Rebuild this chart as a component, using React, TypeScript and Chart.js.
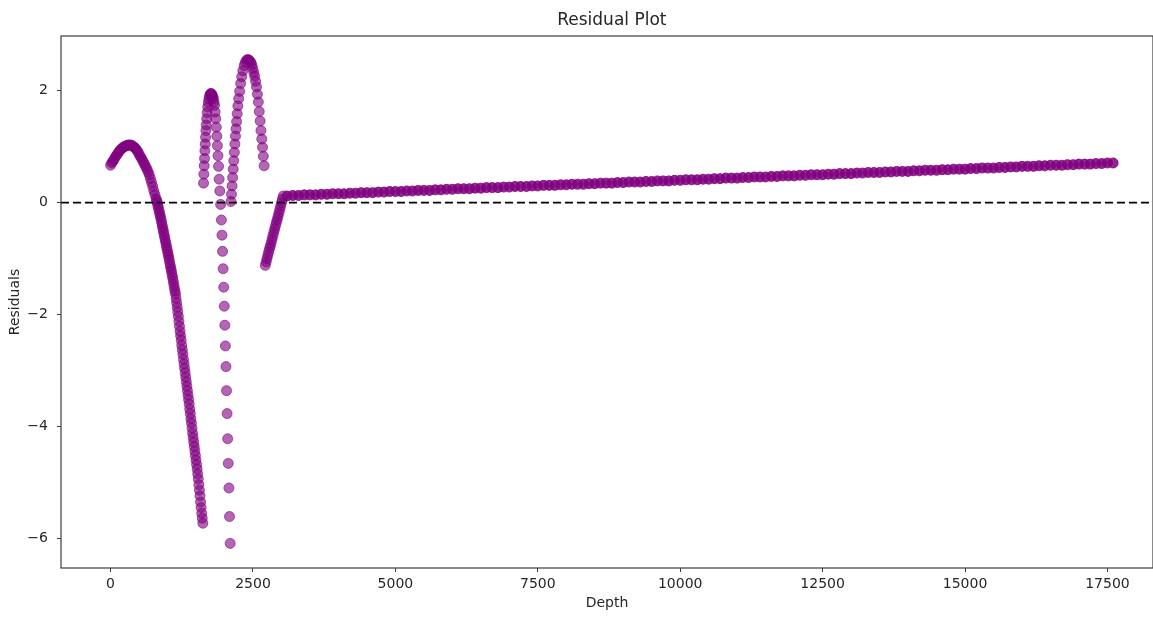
import { useEffect, useRef } from "react";
import { Chart, registerables } from "chart.js";

Chart.register(...registerables);

const X_MIN = -870;
const X_MAX = 18300;
const Y_MIN = -6.53;
const Y_MAX = 2.98;
const X_TICKS = [0, 2500, 5000, 7500, 10000, 12500, 15000, 17500];
const Y_TICKS = [-6, -4, -2, 0, 2];

// Segment A: first arch and long descent
const depthA = [
  0, 20, 40, 60, 80, 100, 120, 140, 160, 180, 200, 220, 240, 260, 280, 300, 320, 340, 360, 380,
  400, 420, 440, 460, 480, 500, 520, 540, 560, 580, 600, 620, 640, 660, 680, 700, 720, 740, 760, 780, 800,
  810, 820, 830, 840, 850, 860, 870, 880, 890, 900,
  910, 920, 930, 940, 950, 960, 970, 980, 990, 1000,
  1010, 1020, 1030, 1040, 1050, 1060, 1070, 1080, 1090, 1100,
  1110, 1120, 1130, 1140, 1150, 1160, 1170, 1180, 1190, 1200,
  1210, 1220, 1230, 1240, 1250, 1260, 1270, 1280, 1290, 1300,
  1310, 1320, 1330, 1340, 1350, 1360, 1370, 1380, 1390, 1400,
  1410, 1420, 1430, 1440, 1450, 1460, 1470, 1480, 1490, 1500,
  1510, 1520, 1530, 1540, 1550, 1560, 1570, 1580, 1590, 1600,
  1610, 1620,
];
const residA = [
  0.67, 0.71, 0.74, 0.77, 0.81, 0.84, 0.87, 0.9, 0.93, 0.95, 0.97, 0.99, 1.0, 1.01, 1.02, 1.03, 1.03, 1.03, 1.03, 1.02,
  1.0, 0.99, 0.97, 0.94, 0.91, 0.87, 0.83, 0.8, 0.76, 0.72, 0.68, 0.64, 0.6, 0.55, 0.5, 0.43, 0.36, 0.29, 0.21, 0.14, 0.07,
  0.04, 0.0, -0.05, -0.09, -0.14, -0.18, -0.23, -0.27, -0.32, -0.37,
  -0.42, -0.47, -0.52, -0.57, -0.62, -0.67, -0.72, -0.77, -0.82, -0.87,
  -0.92, -0.97, -1.02, -1.08, -1.13, -1.18, -1.23, -1.29, -1.34, -1.4,
  -1.46, -1.52, -1.58, -1.63, -1.71, -1.79, -1.87, -1.95, -2.03, -2.12,
  -2.21, -2.3, -2.38, -2.46, -2.55, -2.63, -2.71, -2.8, -2.88, -2.96,
  -3.04, -3.12, -3.2, -3.28, -3.36, -3.44, -3.52, -3.6, -3.69, -3.77,
  -3.86, -3.94, -4.03, -4.12, -4.2, -4.28, -4.36, -4.44, -4.52, -4.6,
  -4.68, -4.76, -4.85, -4.94, -5.04, -5.14, -5.24, -5.35, -5.45, -5.55,
  -5.64, -5.73,
];

// Segment B: first narrow peak and sparse plunge
const depthB = [
  1632, 1638, 1644, 1650, 1656, 1662, 1668, 1674, 1680, 1688, 1696, 1706, 1716, 1726, 1736, 1746, 1756, 1766, 1776, 1786, 1796,
  1806, 1816, 1826, 1836, 1846, 1856, 1866, 1876, 1886, 1896, 1906, 1918, 1932,
  1946, 1956, 1966, 1976, 1986, 1996, 2006, 2016, 2026, 2036, 2046, 2056, 2066, 2078, 2088, 2100,
];
const residB = [
  0.35, 0.51, 0.66, 0.79, 0.93, 1.05, 1.17, 1.29, 1.39, 1.5, 1.61, 1.71, 1.79, 1.85, 1.9, 1.93, 1.95, 1.95, 1.94, 1.92, 1.89,
  1.86, 1.8, 1.74, 1.62, 1.5, 1.35, 1.19, 1.02, 0.84, 0.65, 0.42, 0.21, -0.03,
  -0.31, -0.58, -0.87, -1.18, -1.51, -1.85, -2.19, -2.56, -2.93, -3.36, -3.77, -4.22, -4.66, -5.1, -5.61, -6.09,
];

// Segment C: second peak
const depthC = [
  2113, 2123, 2133, 2143, 2153, 2163, 2173, 2183, 2193, 2203, 2213, 2223, 2235, 2250, 2266, 2284, 2302, 2322, 2344, 2366, 2388, 2410, 2430,
  2450, 2466, 2482, 2498, 2514, 2530, 2546, 2562, 2578, 2594, 2610, 2626, 2640, 2654, 2668, 2682, 2696,
];
const residC = [
  0.02, 0.15, 0.3, 0.45, 0.6, 0.75, 0.9, 1.05, 1.19, 1.32, 1.45, 1.59, 1.73, 1.86, 1.99, 2.13, 2.25, 2.36, 2.45, 2.51, 2.55, 2.56, 2.55,
  2.53, 2.5, 2.46, 2.4, 2.33, 2.26, 2.17, 2.07, 1.94, 1.8, 1.63, 1.46, 1.29, 1.14, 0.99, 0.83, 0.66,
];

// Segment D: steep ramp back above zero
const depthD = [
  2716, 2731, 2746, 2761, 2776, 2791, 2806, 2821, 2836, 2851, 2866, 2881, 2896, 2911, 2926, 2941, 2956, 2971, 2986, 3001, 3016, 3031,
];
const residD = [
  -1.12, -1.06, -1.0, -0.94, -0.88, -0.82, -0.77, -0.71, -0.65, -0.59, -0.53, -0.47, -0.41, -0.35, -0.3, -0.24, -0.18, -0.12, -0.06, 0.0, 0.06, 0.12,
];

// Segment E: long slowly rising band
const depthE = [
  3100, 3200, 3300, 3400, 3500, 3600, 3700, 3800, 3900, 4000,
  4100, 4200, 4300, 4400, 4500, 4600, 4700, 4800, 4900, 5000,
  5100, 5200, 5300, 5400, 5500, 5600, 5700, 5800, 5900, 6000,
  6100, 6200, 6300, 6400, 6500, 6600, 6700, 6800, 6900, 7000,
  7100, 7200, 7300, 7400, 7500, 7600, 7700, 7800, 7900, 8000,
  8100, 8200, 8300, 8400, 8500, 8600, 8700, 8800, 8900, 9000,
  9100, 9200, 9300, 9400, 9500, 9600, 9700, 9800, 9900, 10000,
  10100, 10200, 10300, 10400, 10500, 10600, 10700, 10800, 10900, 11000,
  11100, 11200, 11300, 11400, 11500, 11600, 11700, 11800, 11900, 12000,
  12100, 12200, 12300, 12400, 12500, 12600, 12700, 12800, 12900, 13000,
  13100, 13200, 13300, 13400, 13500, 13600, 13700, 13800, 13900, 14000,
  14100, 14200, 14300, 14400, 14500, 14600, 14700, 14800, 14900, 15000,
  15100, 15200, 15300, 15400, 15500, 15600, 15700, 15800, 15900, 16000,
  16100, 16200, 16300, 16400, 16500, 16600, 16700, 16800, 16900, 17000,
  17100, 17200, 17300, 17400, 17500, 17600,
];
const residE = [
  0.12, 0.13, 0.13, 0.14, 0.14, 0.14, 0.15, 0.15, 0.16, 0.16,
  0.16, 0.17, 0.17, 0.18, 0.18, 0.18, 0.19, 0.19, 0.2, 0.2,
  0.2, 0.21, 0.21, 0.22, 0.22, 0.22, 0.23, 0.23, 0.24, 0.24,
  0.25, 0.25, 0.25, 0.26, 0.26, 0.27, 0.27, 0.27, 0.28, 0.28,
  0.29, 0.29, 0.29, 0.3, 0.3, 0.31, 0.31, 0.31, 0.32, 0.32,
  0.33, 0.33, 0.33, 0.34, 0.34, 0.35, 0.35, 0.35, 0.36, 0.36,
  0.37, 0.37, 0.37, 0.38, 0.38, 0.39, 0.39, 0.39, 0.4, 0.4,
  0.41, 0.41, 0.41, 0.42, 0.42, 0.43, 0.43, 0.44, 0.44, 0.44,
  0.45, 0.45, 0.46, 0.46, 0.46, 0.47, 0.47, 0.48, 0.48, 0.48,
  0.49, 0.49, 0.5, 0.5, 0.5, 0.51, 0.51, 0.52, 0.52, 0.52,
  0.53, 0.53, 0.54, 0.54, 0.54, 0.55, 0.55, 0.56, 0.56, 0.56,
  0.57, 0.57, 0.58, 0.58, 0.58, 0.59, 0.59, 0.6, 0.6, 0.6,
  0.61, 0.61, 0.62, 0.62, 0.62, 0.63, 0.63, 0.64, 0.64, 0.65,
  0.65, 0.65, 0.66, 0.66, 0.67, 0.67, 0.67, 0.68, 0.68, 0.69,
  0.69, 0.69, 0.7, 0.7, 0.71, 0.71,
];

const FONT = "'DejaVu Sans', 'Liberation Sans', sans-serif";
const TEXT = "#262626";
const AXIS = "#3c3c3c";
const PURPLE = "rgba(128, 0, 128, 0.6)";
const PURPLE_DENSE = "rgba(128, 0, 128, 0.85)";

const toPoints = (xs: number[], ys: number[]) => xs.map((x, i) => ({ x, y: ys[i] }));
const fmt = (v: number) => (v < 0 ? "\u2212" + Math.abs(v) : String(v));

const scatterStyle = (color: string) => ({
  showLine: false,
  pointRadius: 5,
  pointBorderWidth: 1,
  backgroundColor: color,
  borderColor: color,
  pointHoverRadius: 5,
});

export default function App() {
  const ref = useRef<HTMLCanvasElement>(null);

  useEffect(() => {
    if (!ref.current) return;
    const framePlugin = {
      id: "frameAndTitle",
      afterDraw(chart: any) {
        const { ctx, chartArea } = chart;
        const { left, top, right, bottom } = chartArea;
        ctx.save();
        ctx.strokeStyle = AXIS;
        ctx.lineWidth = 1.2;
        ctx.strokeRect(left, top, right - left, bottom - top);
        const xs = chart.scales.x;
        const cx = xs.getPixelForValue((-880 + 18480) / 2);
        ctx.fillStyle = TEXT;
        ctx.font = `17px ${FONT}`;
        ctx.textAlign = "center";
        ctx.textBaseline = "middle";
        ctx.fillText("Residual Plot", cx, 21);
        ctx.restore();
      },
    };

    const chart = new Chart(ref.current, {
      type: "scatter",
      data: {
        datasets: [
          {
            label: "zero",
            data: [
              { x: X_MIN, y: 0 },
              { x: X_MAX, y: 0 },
            ],
            showLine: true,
            borderColor: "#000",
            borderWidth: 1.8,
            borderDash: [8, 4],
            pointRadius: 0,
            pointHoverRadius: 0,
          } as any,
          { label: "A", data: toPoints(depthA, residA), ...scatterStyle(PURPLE) },
          { label: "B", data: toPoints(depthB, residB), ...scatterStyle(PURPLE) },
          { label: "C", data: toPoints(depthC, residC), ...scatterStyle(PURPLE) },
          { label: "D", data: toPoints(depthD, residD), ...scatterStyle(PURPLE) },
          { label: "E", data: toPoints(depthE, residE), ...scatterStyle(PURPLE_DENSE) },
        ],
      },
      options: {
        responsive: false,
        animation: false,
        devicePixelRatio: 1,
        layout: { autoPadding: false, padding: { top: 36, left: 0, right: 0, bottom: 0 } },
        plugins: {
          legend: { display: false },
          tooltip: { enabled: false },
          title: { display: false },
        },
        scales: {
          x: {
            type: "linear",
            min: X_MIN,
            max: X_MAX,
            border: { display: false },
            grid: { drawOnChartArea: false, drawTicks: true, tickLength: 4, color: AXIS, tickColor: AXIS },
            afterBuildTicks: (s: any) => {
              s.ticks = X_TICKS.map((value) => ({ value }));
            },
            ticks: {
              autoSkip: false,
              maxRotation: 0,
              padding: 4,
              color: TEXT,
              font: { family: FONT, size: 14 },
              callback: (v: any) => fmt(Number(v)),
            },
            title: {
              display: true,
              text: "Depth",
              color: TEXT,
              font: { family: FONT, size: 14 },
              padding: { top: 0, bottom: 5 },
            },
            afterFit: (s: any) => {
              s.height = 49;
              s.paddingRight = 0;
            },
          },
          y: {
            type: "linear",
            min: Y_MIN,
            max: Y_MAX,
            border: { display: false },
            grid: { drawOnChartArea: false, drawTicks: true, tickLength: 4, color: AXIS, tickColor: AXIS },
            afterBuildTicks: (s: any) => {
              s.ticks = Y_TICKS.map((value) => ({ value }));
            },
            ticks: {
              padding: 9,
              color: TEXT,
              font: { family: FONT, size: 14 },
              callback: (v: any) => fmt(Number(v)),
            },
            title: {
              display: true,
              text: "Residuals",
              color: TEXT,
              font: { family: FONT, size: 14 },
              padding: { top: 7, bottom: 0 },
            },
            afterFit: (s: any) => {
              s.width = 61;
            },
          },
        },
      },
      plugins: [framePlugin],
    });
    return () => chart.destroy();
  }, []);

  return (
    <div style={{ position: "fixed", left: 0, top: 0, width: 1153, height: 617, background: "#fff" }}>
      <canvas ref={ref} width={1153} height={617} style={{ display: "block", width: 1153, height: 617 }} />
    </div>
  );
}
